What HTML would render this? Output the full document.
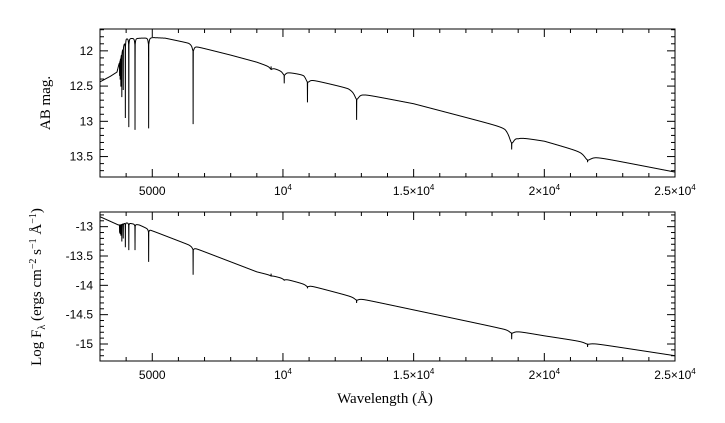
<!DOCTYPE html>
<html><head><meta charset="utf-8"><style>
html,body{margin:0;padding:0;background:#fff;}
svg{display:block;}
.tl{font-family:"Liberation Sans",sans-serif;font-size:12px;fill:#000;}
.tt{font-family:"Liberation Serif",serif;font-size:15px;fill:#000;}
</style></head><body>
<svg id="chart" width="725" height="423" viewBox="0 0 725 423" xmlns="http://www.w3.org/2000/svg"></svg>
<script>
// ---- data ----
const topContLam = [3000,3400,3650,3900,4000,4500,5000,5500,6400,6600,8000,9000,10000,10800,11000,12500,12900,15000,18500,19000,20000,21400,21800,25000];
const topContMag = [12.44,12.36,12.30,11.92,11.82,11.82,11.81,11.82,11.89,11.93,12.06,12.16,12.29,12.34,12.40,12.53,12.60,12.75,13.09,13.22,13.28,13.43,13.49,13.72];
const botContLam = [3000,3700,4000,4500,5000,6400,6600,9000,10000,11000,12700,13000,18300,20000,25000];
const botContFlux = [-12.83,-12.97,-12.93,-12.97,-13.07,-13.31,-13.36,-13.77,-13.88,-14.0,-14.2,-14.23,-14.73,-14.86,-15.2];
const lineLam = [3750,3771,3798,3835,3889,3970,4102,4340,4861,6563,9546,10049,10938,12818,18751,21655];
const topLineCore = [12.35,12.4,12.5,12.65,12.55,12.95,13.08,13.12,13.1,13.04,12.22,12.46,12.73,12.98,13.4,13.58];
const topLineWing = [0.04,0.04,0.05,0.06,0.07,0.1,0.1,0.1,0.1,0.08,0.03,0.05,0.06,0.1,0.15,0.08];
const botLineCore = [-13.1,-13.12,-13.15,-13.25,-13.2,-13.35,-13.4,-13.4,-13.6,-13.82,-13.8,-13.92,-14.05,-14.3,-14.92,-15.05];
const botLineWing = [-0.02,-0.02,-0.03,-0.03,-0.03,-0.04,-0.04,-0.04,-0.05,-0.04,-0.01,-0.02,-0.03,-0.04,-0.05,-0.03];
const lineWidth = [6,6,7,8,10,14,16,18,24,40,60,70,80,100,120,150];
const xTickMajor = [5000,10000,15000,20000,25000];
const xTickLabels = ["5000","10^4","1.5×10^4","2×10^4","2.5×10^4"];
const topYTicks = [12,12.5,13,13.5];
const topYLabels = ["12","12.5","13","13.5"];
const botYTicks = [-13,-13.5,-14,-14.5,-15];
const botYLabels = ["-13","-13.5","-14","-14.5","-15"];

const NS="http://www.w3.org/2000/svg";
const svg=document.getElementById('chart');
const X0=100,X1=675, L0=3000,L1=25000;
const xs=l=>X0+(l-L0)/(L1-L0)*(X1-X0);
const panels=[
 {y0:29,y1:177,v0:11.69,v1:13.79,lam:topContLam,cont:topContMag,core:topLineCore,wing:topLineWing,yt:topYTicks,yl:topYLabels,name:'top'},
 {y0:212,y1:361,v0:-12.75,v1:-15.29,lam:botContLam,cont:botContFlux,core:botLineCore,wing:botLineWing,yt:botYTicks,yl:botYLabels,name:'bottom'}
];
function mk(t,a,p){const e=document.createElementNS(NS,t);for(const k in a)e.setAttribute(k,a[k]);(p||svg).appendChild(e);return e;}
function interp(xa,ya,x){if(x<=xa[0])return ya[0];for(let i=1;i<xa.length;i++){if(x<=xa[i]){const t=(x-xa[i-1])/(xa[i]-xa[i-1]);return ya[i-1]+t*(ya[i]-ya[i-1]);}}return ya[ya.length-1];}
panels.forEach(P=>{
 const ys=v=>P.y0+(v-P.v0)/(P.v1-P.v0)*(P.y1-P.y0);
 const g=mk('g',{});
 
 
 const fr=mk('rect',{x:X0,y:P.y0,width:X1-X0,height:P.y1-P.y0,fill:'none',stroke:'#000','stroke-width':1},g);
 
 
 for(let l=4000;l<=25000;l+=1000){
  const x=xs(l), len=(l%5000===0)?8:4;
  mk('line',{x1:x,x2:x,y1:P.y1,y2:P.y1-len,stroke:'#000'},g);
  mk('line',{x1:x,x2:x,y1:P.y0,y2:P.y0+len,stroke:'#000'},g);
 }
 xTickMajor.forEach((l,i)=>{
  const t=mk('text',{x:xs(l),y:P.y1+18,'text-anchor':'middle',class:'tl'},g);
  
  
  const parts=xTickLabels[i].split('^');
  t.textContent=parts[0];
  if(parts[1]){const s=mk('tspan',{dy:-5,'font-size':'8px'},t);s.textContent=parts[1];}
 });
 const lo=Math.min(P.v0,P.v1),hi=Math.max(P.v0,P.v1);
 for(let v=Math.ceil(lo*10)/10;v<=hi;v+=0.1){
  const vv=Math.round(v*10)/10,y=ys(vv),maj=Math.abs(vv*2-Math.round(vv*2))<1e-6,len=maj?8:4;
  mk('line',{x1:X0,x2:X0+len,y1:y,y2:y,stroke:'#000'},g);
  mk('line',{x1:X1,x2:X1-len,y1:y,y2:y,stroke:'#000'},g);
 }
 P.yt.forEach((v,i)=>{
  const t=mk('text',{x:X0-7,y:ys(v)+4,'text-anchor':'end',class:'tl'},g);
  
  
  t.textContent=P.yl[i];
 });
 const pts=[];
 const lamSet=[];
 for(let l=L0;l<=L1;l+=3)lamSet.push(l);
 lineLam.forEach(c=>{lamSet.push(c-1,c,c+1);});
 lamSet.sort((a,b)=>a-b);
 lamSet.forEach(l=>{
  let v=interp(P.lam,P.cont,l);
  lineLam.forEach((c,i)=>{
   const d=l-c;
   const w=P.wing[i]/(1+(d/lineWidth[i])**2);
   const base=interp(P.lam,P.cont,c)+P.wing[i];
   const core=(P.core[i]-base)*Math.max(0,1-Math.abs(d)/5);
   v+=w+core;
  });
  pts.push(xs(l).toFixed(2)+','+ys(v).toFixed(2));
 });
 const pl=mk('polyline',{points:pts.join(' '),fill:'none',stroke:'#000','stroke-width':1},g);
 
 
});
const t1=mk('text',{x:0,y:0,class:'tt','text-anchor':'middle',transform:'translate(50,103) rotate(-90)'});


t1.textContent='AB mag.';
const t2=mk('text',{x:0,y:0,class:'tt','text-anchor':'middle',transform:'translate(41,287) rotate(-90)'});


t2.innerHTML='Log F<tspan dy="4" font-size="10">λ</tspan><tspan dy="-4"> (ergs cm</tspan><tspan dy="-5" font-size="10">−2</tspan><tspan dy="5"> s</tspan><tspan dy="-5" font-size="10">−1</tspan><tspan dy="5"> Å</tspan><tspan dy="-5" font-size="10">−1</tspan><tspan dy="5">)</tspan>';
const t3=mk('text',{x:385,y:403,class:'tt','text-anchor':'middle'});


t3.textContent='Wavelength (Å)';
</script>
</body></html>
